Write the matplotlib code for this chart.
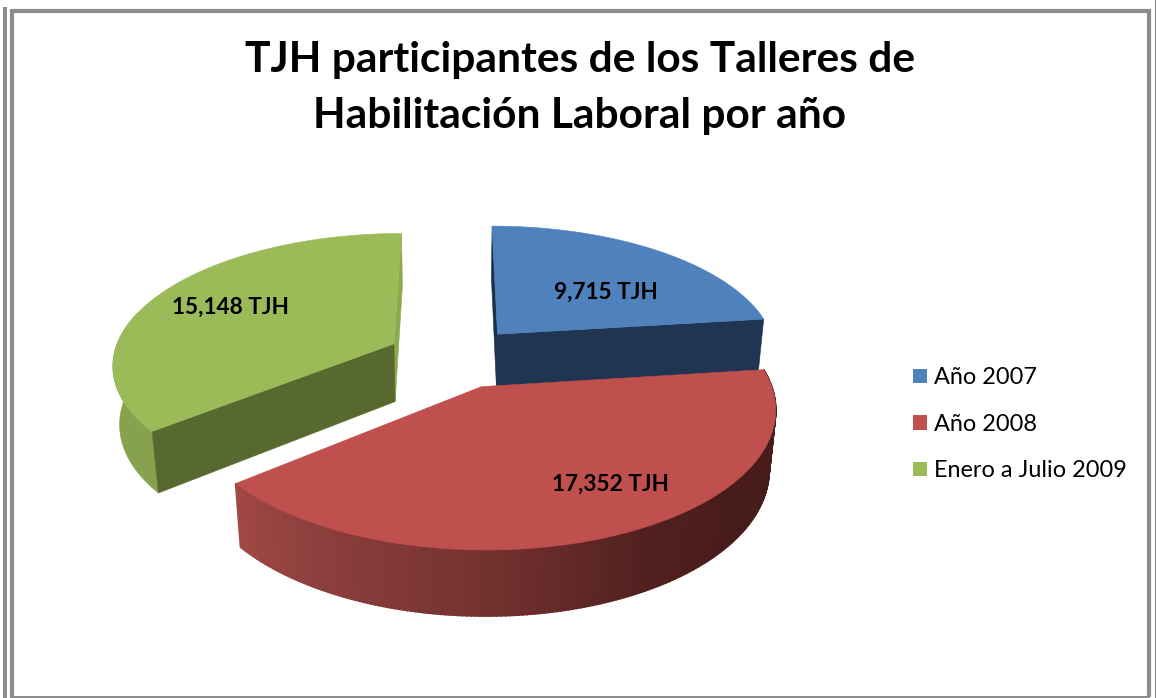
import numpy as np
import matplotlib
matplotlib.use('Agg')
import matplotlib.pyplot as plt
from matplotlib.patches import Polygon, Patch

# data
categories = ['Año 2007', 'Año 2008', 'Enero a Julio 2009']
values = [9715, 17352, 15148]
title = 'TJH participantes de los Talleres de\nHabilitación Laboral por año'

top_colors = ['#4F81BD', '#C0504D', '#9BBB59']
front_colors = ['#1F3552', None, '#58692F']
side_colors = ['#1B2F49', None, '#8DA950']
outer_colors = ['#3A5F8E', None, '#87A24C']
label_pos = [(606, 292), (611, 484), (230, 307)]

# projection of the pie, in pixels
X0, Y0 = 454, 357
RX, RY = 281, 130
PERSP = 0.1456
DEPTH_PERSP = 0.02
EXPLODE = 0.24
HEIGHT = 59.5


def project(u, v, bottom=False):
    u = np.asarray(u, dtype=float)
    v = np.asarray(v, dtype=float)
    d = 1 + PERSP * v + (DEPTH_PERSP if bottom else 0)
    x = X0 + RX * u / d
    y = Y0 + (-RY * v + (HEIGHT if bottom else 0)) / d
    return x, y


def rim(theta, ox, oy, bottom=False):
    return project(np.sin(theta) + ox, np.cos(theta) + oy, bottom)


def pts(x, y):
    return np.column_stack([np.atleast_1d(x), np.atleast_1d(y)])


def add_poly(ax, xy, color, z, lw=0.4):
    ax.add_patch(Polygon(xy, closed=True, facecolor=color, edgecolor=color, linewidth=lw, zorder=z))


def radial_face(ax, th, ox, oy, color, z):
    a = pts(*project(ox, oy))
    b = pts(*rim(th, ox, oy))
    c = pts(*rim(th, ox, oy, True))
    d = pts(*project(ox, oy, True))
    add_poly(ax, np.vstack([a, b, c, d]), color, z)


def red_wall_color(th):
    deg = np.degrees(th)
    r = np.interp(deg, [130, 150, 180, 231], [72, 80, 115, 160])
    g = np.interp(deg, [130, 150, 180, 231], [28, 32, 50, 72])
    b = np.interp(deg, [130, 150, 180, 231], [27, 30, 48, 70])
    return (r / 255, g / 255, b / 255)


fig = plt.figure(figsize=(11.56, 6.98), dpi=100)
ax = fig.add_axes([0, 0, 1, 1])
ax.set_xlim(0, 1156)
ax.set_ylim(698, 0)
ax.axis('off')

# frame
gray = '#8C8C8C'
ax.plot([4.5, 4.5], [7, 698], color=gray, lw=2.9, solid_capstyle='butt')
ax.plot([12, 12, 1149, 1149], [698, 11, 11, 697], color=gray, lw=3.0, solid_joinstyle='miter', solid_capstyle='butt')
ax.plot([12, 1149], [697, 697], color=gray, lw=2.2, solid_capstyle='butt')
ax.plot([1155.5, 1155.5], [0, 698], color=gray, lw=1.5)

ax.text(580, 88, title, ha='center', va='center', fontsize=30.6, fontweight='bold',
        family='Lato', linespacing=1.6, color='black')

# angles come from the values, clockwise from 12 o'clock
fracs = np.array(values) / np.sum(values)
edges = np.concatenate([[0], np.cumsum(fracs)]) * 2 * np.pi
draw_order = [2, 0, 1]

for n, i in enumerate(draw_order):
    t0, t1 = edges[i], edges[i + 1]
    mid = (t0 + t1) / 2
    ox, oy = EXPLODE * np.sin(mid), EXPLODE * np.cos(mid)
    z = 2 + n * 10
    th = np.linspace(t0, t1, 200)

    if i == 1:
        # outer wall, shaded from left to right
        for a, b in zip(th[:-1], th[1:]):
            tt = np.array([a, b])
            top = pts(*rim(tt, ox, oy))
            bot = pts(*rim(tt[::-1], ox, oy, True))
            add_poly(ax, np.vstack([top, bot]), red_wall_color(a), z, lw=1.2)
    elif i == 2:
        radial_face(ax, t1, ox, oy, side_colors[i], z)
        tt = th[th < np.radians(285)]
        add_poly(ax, np.vstack([pts(*rim(tt, ox, oy)), pts(*rim(tt[::-1], ox, oy, True))]), outer_colors[i], z + 1)
        radial_face(ax, t0, ox, oy, front_colors[i], z + 2)
    else:
        radial_face(ax, t0, ox, oy, side_colors[i], z)
        radial_face(ax, t1, ox, oy, front_colors[i], z + 1)

    top_xy = np.vstack([pts(*project(ox, oy)), pts(*rim(th, ox, oy))])
    add_poly(ax, top_xy, top_colors[i], z + 3)

for v, (lx, ly) in zip(values, label_pos):
    ax.text(lx, ly, f'{v:,} TJH', ha='center', va='center', fontsize=16.3, fontweight='bold',
            family='Lato', color='black', zorder=60)

handles = [Patch(facecolor=c, edgecolor='none', label=name) for c, name in zip(top_colors, categories)]
leg = ax.legend(handles=handles, loc='upper left', bbox_to_anchor=(904, 358), bbox_transform=ax.transData,
                frameon=False, prop={'family': 'Lato', 'size': 16.9}, handlelength=0.58, handleheight=0.58,
                handletextpad=0.3, labelspacing=1.08, borderpad=0.4, borderaxespad=0)
for t in leg.get_texts():
    t.set_color('black')

fig.savefig('out.png', dpi=100)
